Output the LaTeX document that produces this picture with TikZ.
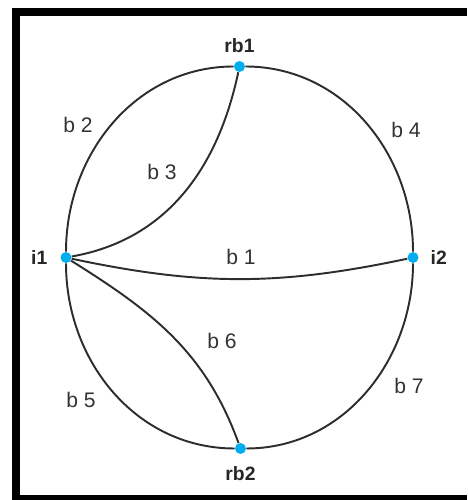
\documentclass[tikz,border=0pt]{standalone}
\usepackage{fontspec}
\setmainfont{Liberation Sans}
\usetikzlibrary{positioning}
\definecolor{dotblue}{RGB}{0,174,239}
\definecolor{wire}{RGB}{45,45,45}

\begin{document}
\begin{tikzpicture}[
  vertex/.style={circle, fill=dotblue, inner sep=0pt, minimum size=0.22cm},
  branch/.style={draw=wire, line width=1.1pt},
  vname/.style={font=\fontsize{11}{13}\selectfont\bfseries, text=black!85, inner sep=0pt},
  bname/.style={font=\fontsize{12}{14}\selectfont, text=black!80, inner sep=0pt}
]

% === FRAME ===
\useasboundingbox (0,0) rectangle (9.34,10);
\fill[black] (0.24,0) rectangle (0.40,9.84);
\fill[black] (0.24,9.68) rectangle (9.34,9.84);
\fill[black] (0.24,0) rectangle (9.34,0.10);

% === VERTICI ===
\node[vertex] (rb1) at (4.79,8.67) {};
\node[vertex] (rb2) at (4.81,1.03) {};
\node[vertex] (i1) at (1.32,4.85) {};
\node[vertex] (i2) at (8.26,4.85) {};

\node[vname, above=0.15cm of rb1] (nrb1) {rb1};
\node[vname, below=0.23cm of rb2] (nrb2) {rb2};
\node[vname, left=0.25cm of i1] (ni1) {i1};
\node[vname, right=0.23cm of i2] (ni2) {i2};

% === RAMI ===
\draw[branch] (i1) to[out=90, in=180] (rb1);   % b 2
\draw[branch] (rb1) to[out=0, in=90] (i2);     % b 4
\draw[branch] (i1) to[out=-90, in=180] (rb2);  % b 5
\draw[branch] (rb2) to[out=0, in=-90] (i2);    % b 7
\draw[branch] (i1) to[bend right=12] (i2);     % b 1
\draw[branch] (i1) to[out=10, in=-102] (rb1);  % b 3
\draw[branch] (i1) to[out=-32, in=110] (rb2);  % b 6

% === ETICHETTE ===
\node[bname] (lb1) at (4.82,4.86) {b 1};
\node[bname] (lb2) at (1.56,7.50) {b 2};
\node[bname] (lb3) at (3.24,6.56) {b 3};
\node[bname] (lb4) at (8.12,7.40) {b 4};
\node[bname] (lb5) at (1.62,2.00) {b 5};
\node[bname] (lb6) at (4.44,3.18) {b 6};
\node[bname] (lb7) at (8.18,2.28) {b 7};

\end{tikzpicture}
\end{document}
